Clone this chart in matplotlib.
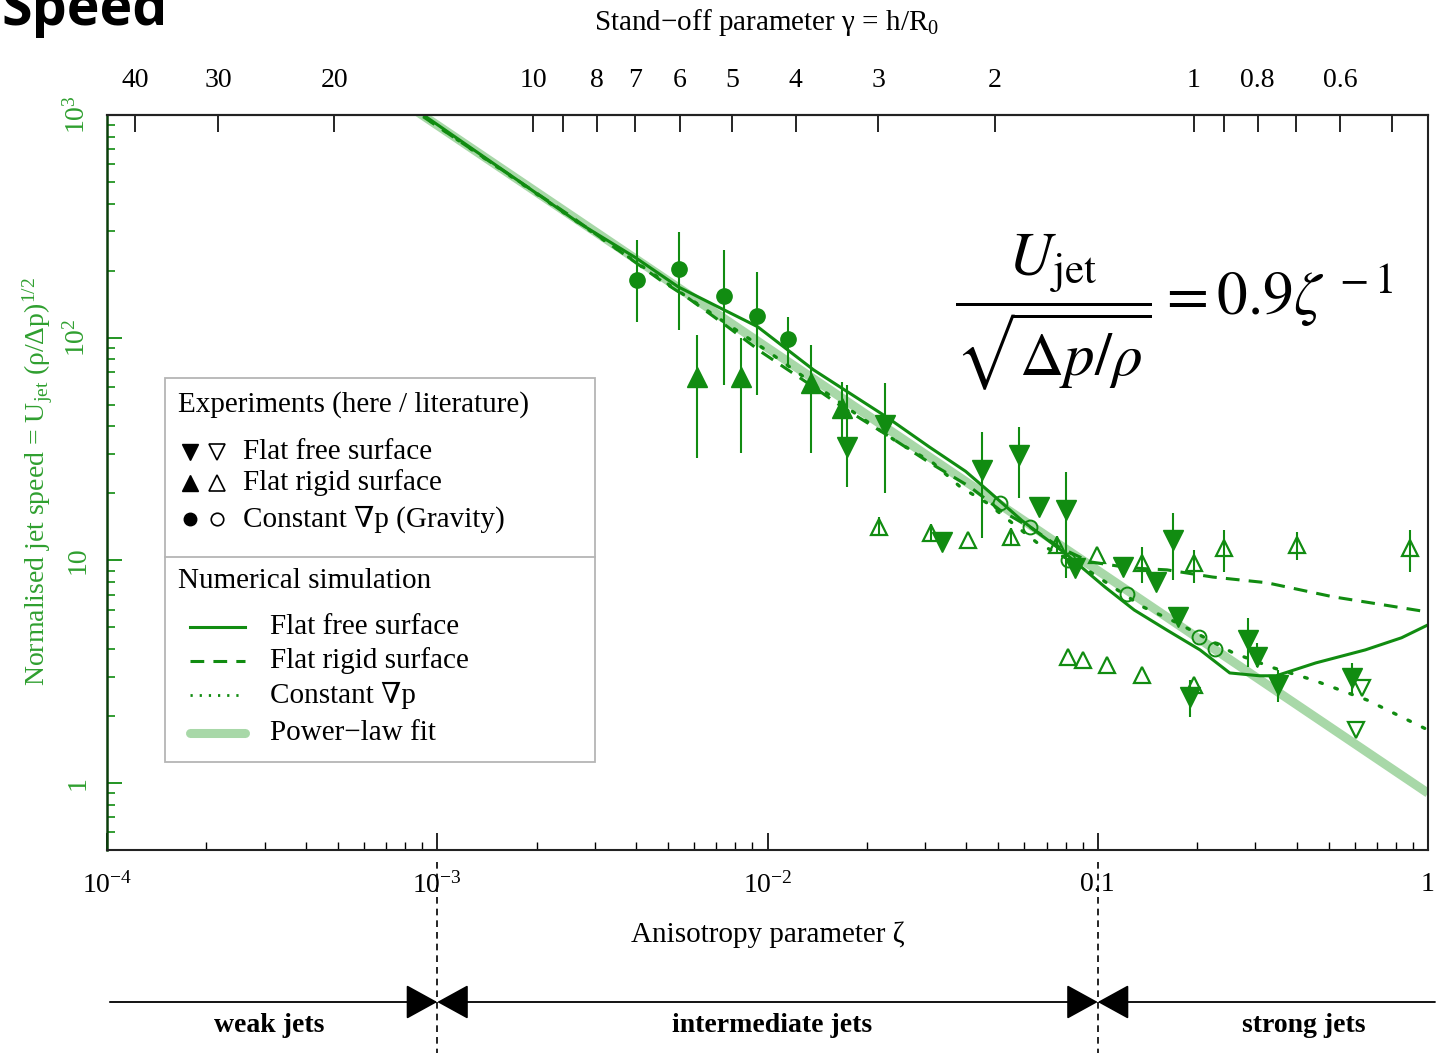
#!/usr/bin/env python3

import numpy as np
import matplotlib.pyplot as plt
from matplotlib import transforms
from matplotlib.lines import Line2D
from matplotlib.patches import Rectangle
from matplotlib.ticker import FixedLocator, FixedFormatter, LogLocator, NullFormatter, NullLocator

plt.rcParams['font.family'] = ['Liberation Serif', 'DejaVu Serif']
plt.rcParams['mathtext.fontset'] = 'custom'
plt.rcParams['mathtext.rm'] = 'Liberation Serif'
plt.rcParams['mathtext.it'] = 'Liberation Serif:italic'
plt.rcParams['mathtext.bf'] = 'Liberation Serif:bold'

# --- simulation curves (zeta, normalised jet speed) ---
free_zeta = [7.94e-4, 1.78e-3, 2.69e-3, 3.98e-3, 5.37e-3, 9.33e-3, 1.38e-2, 2.29e-2, 3.09e-2,
             3.98e-2, 4.68e-2, 5.89e-2, 7.94e-2, 0.105, 0.129, 0.162, 0.204, 0.251, 0.309,
             0.347, 0.457, 0.646, 0.832, 1.0]
free_u = [1148, 501, 327, 229, 169, 112, 71.6, 44.1, 32.3,
          25.1, 20.4, 15.1, 10.8, 7.60, 5.98, 4.86, 3.96, 3.12, 3.03,
          3.03, 3.46, 3.96, 4.49, 5.13]

rigid_zeta = [7.94e-4, 2.51e-3, 4.72e-3, 5.70e-3, 7.33e-3, 9.68e-3, 1.32e-2, 1.74e-2, 2.35e-2,
              3.10e-2, 4.10e-2, 5.06e-2, 6.24e-2, 7.69e-2, 9.48e-2, 0.125, 0.162, 0.223,
              0.325, 0.515, 1.0]
rigid_u = [1122, 355, 182, 152, 116, 85.3, 62.7, 47.3, 35.8,
           27.4, 21.4, 16.8, 14.1, 11.4, 9.84, 9.25, 9.06, 8.41,
           7.93, 6.86, 5.86]

grad_zeta = [7.94e-4, 2.5e-3, 5.0e-3, 1.0e-2, 1.87e-2, 2.47e-2, 3.17e-2, 3.83e-2, 4.62e-2,
             6.55e-2, 9.02e-2, 0.137, 0.174, 0.257, 0.340, 0.449, 0.653, 1.0]
grad_u = [1130, 352, 174, 87, 45.0, 34.0, 27.4, 21.4, 18.1,
          12.0, 9.33, 6.18, 5.24, 3.84, 3.29, 2.90, 2.36, 1.73]

# power-law fit U = 0.9 / zeta
FIT_COEF = 0.9
fit_zeta = np.array([8.0e-4, 1.0])

# --- experiments, here (filled markers) with error bars ---
here_grad_zeta = [4.03e-3, 5.40e-3, 7.38e-3, 9.29e-3, 1.15e-2]
here_grad_u = [182, 203, 154, 125, 98.6]
here_grad_lo = [118, 108, 61.4, 55.3, 73.8]
here_grad_hi = [275, 298, 248, 197, 124]

here_rigid_zeta = [6.12e-3, 8.32e-3, 1.35e-2, 1.68e-2]
here_rigid_u = [66.7, 66.7, 62.6, 48.3]
here_rigid_lo = [28.8, 30.3, 30.3, 34.7]
here_rigid_hi = [103, 99.7, 92.7, 63.2]

here_free_zeta = [1.74e-2, 2.27e-2, 3.37e-2, 4.47e-2, 5.78e-2, 6.64e-2, 8.02e-2, 8.53e-2, 0.119,
                  0.150, 0.169, 0.175, 0.190, 0.285, 0.303, 0.352, 0.589]
here_free_u = [32.3, 40.6, 12.1, 25.5, 29.7, 17.4, 16.8, 9.25, 9.33,
               8.0, 12.4, 5.57, 2.44, 4.40, 3.68, 2.75, 2.96]
here_free_lo = [21.4, 20.1, np.nan, 12.6, 19.1, np.nan, 8.34, np.nan, np.nan,
                np.nan, 8.17, np.nan, 1.98, 3.32, 3.32, 2.31, 2.54]
here_free_hi = [61.4, 62.6, np.nan, 37.7, 39.7, np.nan, 24.9, np.nan, np.nan,
                np.nan, 16.3, np.nan, 2.90, 5.51, 4.26, 3.22, 3.46]

# --- experiments, literature (open markers) ---
lit_free_zeta = [0.631, 0.605]
lit_free_u = [2.67, 1.73]

lit_rigid_zeta = [2.18e-2, 3.13e-2, 4.05e-2, 5.46e-2, 7.53e-2, 9.95e-2, 0.136, 0.195, 0.241,
                  0.401, 0.883, 8.13e-2, 9.02e-2, 0.107, 0.136, 0.195]
lit_rigid_u = [14.1, 13.3, 12.4, 12.7, 11.7, 10.6, 9.73, 9.73, 11.4,
               11.7, 11.4, 3.68, 3.57, 3.39, 3.05, 2.75]
lit_rigid_lo = [13.0, 12.3, np.nan, 11.7, 10.8, np.nan, 7.92, 7.92, 8.87,
                10.0, 8.87, np.nan, np.nan, np.nan, np.nan, np.nan]
lit_rigid_hi = [15.7, 14.6, np.nan, 14.0, 12.8, np.nan, 11.5, 11.1, 13.7,
                13.4, 13.7, np.nan, np.nan, np.nan, np.nan, np.nan]

lit_grad_zeta = [5.06e-2, 6.24e-2, 8.13e-2, 0.123, 0.203, 0.226]
lit_grad_u = [18.1, 14.1, 10.0, 7.06, 4.53, 4.00]

# stand-off parameter gamma = sqrt(0.195 / zeta)
GAMMA_COEF = 0.195
gamma_ticks = [40, 30, 20, 10, 9, 8, 7, 6, 5, 4, 3, 2, 1, 0.9, 0.8, 0.7, 0.6, 0.5]
gamma_labels = ['40', '30', '20', '10', '', '8', '7', '6', '5', '4', '3', '2', '1', '', '0.8', '', '0.6', '']

x_ticks = [1e-4, 1e-3, 1e-2, 0.1, 1]
x_labels = [r'$10^{-4}$', r'$10^{-3}$', r'$10^{-2}$', '0.1', '1']
y_ticks = [1, 10, 100, 1000]
y_labels = ['1', '10', r'$10^2$', r'$10^3$']

# regimes along zeta
regime_edges = [1e-3, 0.1]
regime_names = ['weak jets', 'intermediate jets', 'strong jets']
regime_label_x = [3.1e-4, 1.03e-2, 0.42]
regime_span = [1.02e-4, 1.05]

GREEN = '#118c11'
FIT_GREEN = '#a8d8a8'
LABEL_GREEN = '#2f9f2f'

W, H = 1438, 1053


def fx(px):
    return px / W


def fy(py):
    return 1 - py / H


fig = plt.figure(figsize=(W / 100, H / 100), dpi=100)
ax = fig.add_axes([fx(107), fy(850), (1428 - 107) / W, (850 - 115) / H])
ax.set_xscale('log')
ax.set_yscale('log')
ax.set_xlim(1e-4, 1)
ax.set_ylim(0.5, 1000)

fz = np.asarray(fit_zeta)
ax.plot(fz, FIT_COEF / fz, color=FIT_GREEN, lw=6.5, solid_capstyle='butt', zorder=1)
ax.plot(free_zeta, free_u, color=GREEN, lw=2.2, zorder=2)
ax.plot(rigid_zeta, rigid_u, color=GREEN, lw=2.2, ls=(0, (4.5, 3)), zorder=2)
ax.plot(grad_zeta, grad_u, color=GREEN, lw=2.4, ls=(0, (0.8, 4.0)), dash_capstyle='round', zorder=2)

# error bars
ax.vlines(here_grad_zeta, here_grad_lo, here_grad_hi, color=GREEN, lw=1.5, zorder=3)
ax.vlines(here_rigid_zeta, here_rigid_lo, here_rigid_hi, color=GREEN, lw=1.5, zorder=3)
ax.vlines(here_free_zeta, here_free_lo, here_free_hi, color=GREEN, lw=1.5, zorder=3)
ax.vlines(lit_rigid_zeta, lit_rigid_lo, lit_rigid_hi, color=GREEN, lw=1.5, zorder=3)

# markers
ax.plot(here_grad_zeta, here_grad_u, 'o', color=GREEN, ms=11, zorder=4)
ax.plot(here_rigid_zeta, here_rigid_u, '^', color=GREEN, ms=14, zorder=4)
ax.plot(here_free_zeta, here_free_u, 'v', color=GREEN, ms=14, zorder=4)
ax.plot(lit_free_zeta, lit_free_u, 'v', mfc='none', mec=GREEN, mew=1.6, ms=12, zorder=4)
ax.plot(lit_rigid_zeta, lit_rigid_u, '^', mfc='none', mec=GREEN, mew=1.6, ms=12, zorder=4)
ax.plot(lit_grad_zeta, lit_grad_u, 'o', mfc='none', mec=GREEN, mew=1.4, ms=10, zorder=4)

# axes styling
ax.xaxis.set_major_locator(FixedLocator(x_ticks))
ax.xaxis.set_major_formatter(FixedFormatter(x_labels))
ax.xaxis.set_minor_locator(LogLocator(base=10, subs=np.arange(2, 10)))
ax.xaxis.set_minor_formatter(NullFormatter())
ax.tick_params(axis='x', which='major', direction='in', length=12, width=1.2, labelsize=20, pad=16)
ax.tick_params(axis='x', which='minor', direction='in', length=6, width=1.0)

ax.yaxis.set_major_locator(FixedLocator(y_ticks))
ax.yaxis.set_major_formatter(FixedFormatter(y_labels))
ax.yaxis.set_minor_locator(LogLocator(base=10, subs=np.arange(2, 10)))
ax.yaxis.set_minor_formatter(NullFormatter())
ax.tick_params(axis='y', which='major', direction='in', length=11, width=1.3, colors=GREEN,
               labelsize=20, pad=12)
ax.tick_params(axis='y', which='minor', direction='in', length=6, width=1.2, colors=GREEN)
for lab in ax.get_yticklabels():
    lab.set_rotation(90)
    lab.set_va('center')
    lab.set_color(LABEL_GREEN)

for side in ['top', 'right', 'bottom']:
    ax.spines[side].set_linewidth(1.5)
    ax.spines[side].set_color('#222222')
ax.spines['left'].set_linewidth(1.8)
ax.spines['left'].set_color('#0b3f0b')


def zeta_to_gamma(z):
    z = np.asarray(z, dtype=float)
    with np.errstate(divide='ignore', invalid='ignore'):
        return np.sqrt(GAMMA_COEF / z)


def gamma_to_zeta(g):
    g = np.asarray(g, dtype=float)
    with np.errstate(divide='ignore', invalid='ignore'):
        return GAMMA_COEF / g ** 2


sec = ax.secondary_xaxis('top', functions=(zeta_to_gamma, gamma_to_zeta))
sec.set_xticks(gamma_ticks)
sec.set_xticklabels(gamma_labels)
sec.xaxis.set_minor_locator(NullLocator())
sec.tick_params(axis='x', which='major', direction='in', length=12, width=1.2, labelsize=20, pad=16)
sec.spines['top'].set_linewidth(1.5)

fig.text(fx(767), fy(22), 'Stand\u2212off parameter \u03b3 = h/R$_0$', fontsize=21, ha='center', va='center')
fig.text(fx(768), fy(935), 'Anisotropy parameter \u03b6', fontsize=21, ha='center', va='center')
fig.text(fx(38), fy(482), 'Normalised jet speed = U$_{\\mathrm{jet}}$ (\u03c1/\u0394p)$^{1/2}$',
         fontsize=20, rotation=90, ha='center', va='center', color=LABEL_GREEN)

# legend panel
fig.add_artist(Rectangle((fx(165), fy(762)), (595 - 165) / W, (762 - 378) / H,
                         transform=fig.transFigure, facecolor='white', edgecolor='#b5b5b5', lw=1.3,
                         zorder=5))
fig.add_artist(Line2D([fx(165), fx(595)], [fy(557), fy(557)], transform=fig.transFigure,
                      color='#b5b5b5', lw=1.3, zorder=6))
fig.text(fx(178), fy(405), 'Experiments (here / literature)', fontsize=21, va='center', zorder=7)
exp_rows = [('v', 'Flat free surface', 452), ('^', 'Flat rigid surface', 483),
            ('o', 'Constant \u2207p (Gravity)', 519)]
for mk, txt, py in exp_rows:
    ms = 9 if mk == 'o' else 11
    fig.add_artist(Line2D([fx(190)], [fy(py)], marker=mk, color='k', ms=ms, ls='none',
                          transform=fig.transFigure, zorder=7))
    fig.add_artist(Line2D([fx(217)], [fy(py)], marker=mk, mfc='none', mec='k', mew=1.2,
                          ms=ms, ls='none', transform=fig.transFigure, zorder=7))
    fig.text(fx(243), fy(py), txt, fontsize=21, va='center', zorder=7)

fig.text(fx(178), fy(581), 'Numerical simulation', fontsize=21, va='center', zorder=7)
sim_rows = [(dict(color=GREEN, lw=2.2), 'Flat free surface', 627),
            (dict(color=GREEN, lw=2.2, ls=(0, (4.5, 3))), 'Flat rigid surface', 661),
            (dict(color=GREEN, lw=2.0, ls=(0, (0.8, 2.5))), 'Constant \u2207p', 695),
            (dict(color=FIT_GREEN, lw=6.5, solid_capstyle='round'), 'Power\u2212law fit', 733)]
for style, txt, py in sim_rows:
    fig.add_artist(Line2D([fx(190), fx(245)], [fy(py), fy(py)], transform=fig.transFigure,
                          zorder=7, **style))
    fig.text(fx(270), fy(py), txt, fontsize=21, va='center', zorder=7)

# formula for the power-law fit
fig.text(fx(1174), fy(312), r'$\dfrac{U_{\mathrm{jet}}}{\sqrt{\Delta p/\rho}} = 0.9\zeta^{\,-1}$',
         fontsize=44, math_fontfamily='stix', ha='center', va='center')

# jet regimes below the axis
bt = transforms.blended_transform_factory(ax.transData, fig.transFigure)
for edge in regime_edges:
    ax.plot([edge, edge], [fy(862), 0], transform=bt, color='k', lw=1.2, ls=(0, (4, 3)), clip_on=False)

arrow_y = fy(1002)
bounds = [regime_span[0]] + regime_edges + [regime_span[1]]
styles = ['-|>', '<|-|>', '<|-']
for (x0, x1), st in zip(zip(bounds[:-1], bounds[1:]), styles):
    ax.annotate('', xy=(x1, arrow_y), xycoords=bt, xytext=(x0, arrow_y), textcoords=bt,
                annotation_clip=False,
                arrowprops=dict(arrowstyle=st + ',head_length=1.0,head_width=0.55', color='k',
                                lw=1.3, shrinkA=0, shrinkB=0, mutation_scale=20))
for name, xl in zip(regime_names, regime_label_x):
    ax.text(xl, fy(1025), name, transform=bt, fontsize=20, fontweight='bold', ha='center', va='center')

fig.text(fx(1), fy(25), 'Speed', fontsize=40, fontweight='bold', family='Open Sans', va='baseline')

fig.savefig('out.png', dpi=100)
